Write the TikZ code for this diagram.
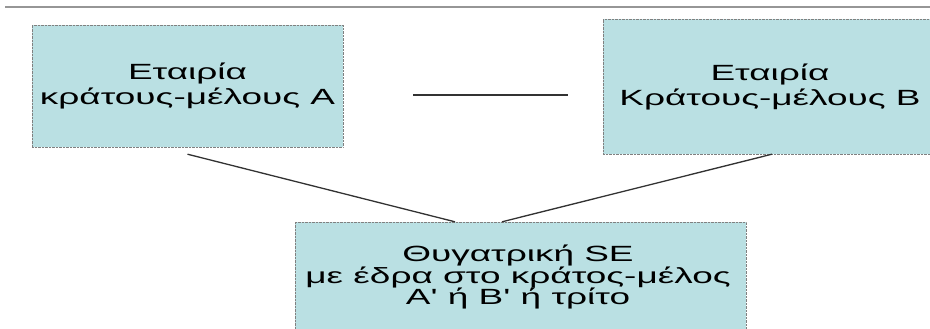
\documentclass[tikz,border=0pt]{standalone}
\usepackage{fontspec}
\setmainfont{Liberation Sans}
\usepackage{tikz}
\usetikzlibrary{calc}
\definecolor{boxfill}{RGB}{186,224,227}
\definecolor{rulegray}{RGB}{150,150,150}
\definecolor{linkgray}{RGB}{50,50,50}
% wide lettering of the slide
\newcommand{\widen}[1]{\scalebox{1.68}[1]{#1}}

\begin{document}
\begin{tikzpicture}[x=1pt,y=-1pt]
\tikzstyle{every node}+=[inner sep=0pt]
\tikzstyle{firm}=[draw=gray, densely dotted, fill=boxfill, align=center, font=\fontsize{22}{25}\selectfont]
\tikzstyle{link}=[linkgray, line width=1.3]
\useasboundingbox (0,0) rectangle (930,329);
\draw [rulegray, line width=1.2] (5,7) -- (930,7);
\node [firm, minimum width=311, minimum height=122] (a) at (187.5,86) {\widen{Εταιρία}\\\widen{κράτους-μέλους Α}};
\node [firm, minimum width=334, minimum height=135] (b) at (770,86.5) {\widen{Εταιρία}\\\widen{Κράτους-μέλους Β}};
\node [firm, minimum width=451, minimum height=116] (c) at (520.5,280) {};
\node [align=center, font=\fontsize{22}{21.5}\selectfont] (ctext) at (518,277) {\widen{Θυγατρική SE}\\\widen{με έδρα στο κράτος-μέλος}\\\widen{Α\textquotesingle{} ή Β\textquotesingle{} ή τρίτο}};
\draw [link] ($(a.east)+(70,9)$) -- ($(b.west)+(-35,8.5)$);
\draw [link] ($(a.south)+(0,7)$) -- ($(c.north)+(-65.5,0)$);
\draw [link] ($(b.south)+(2,0)$) -- ($(c.north)+(-18.5,0)$);
\end{tikzpicture}
\end{document}
